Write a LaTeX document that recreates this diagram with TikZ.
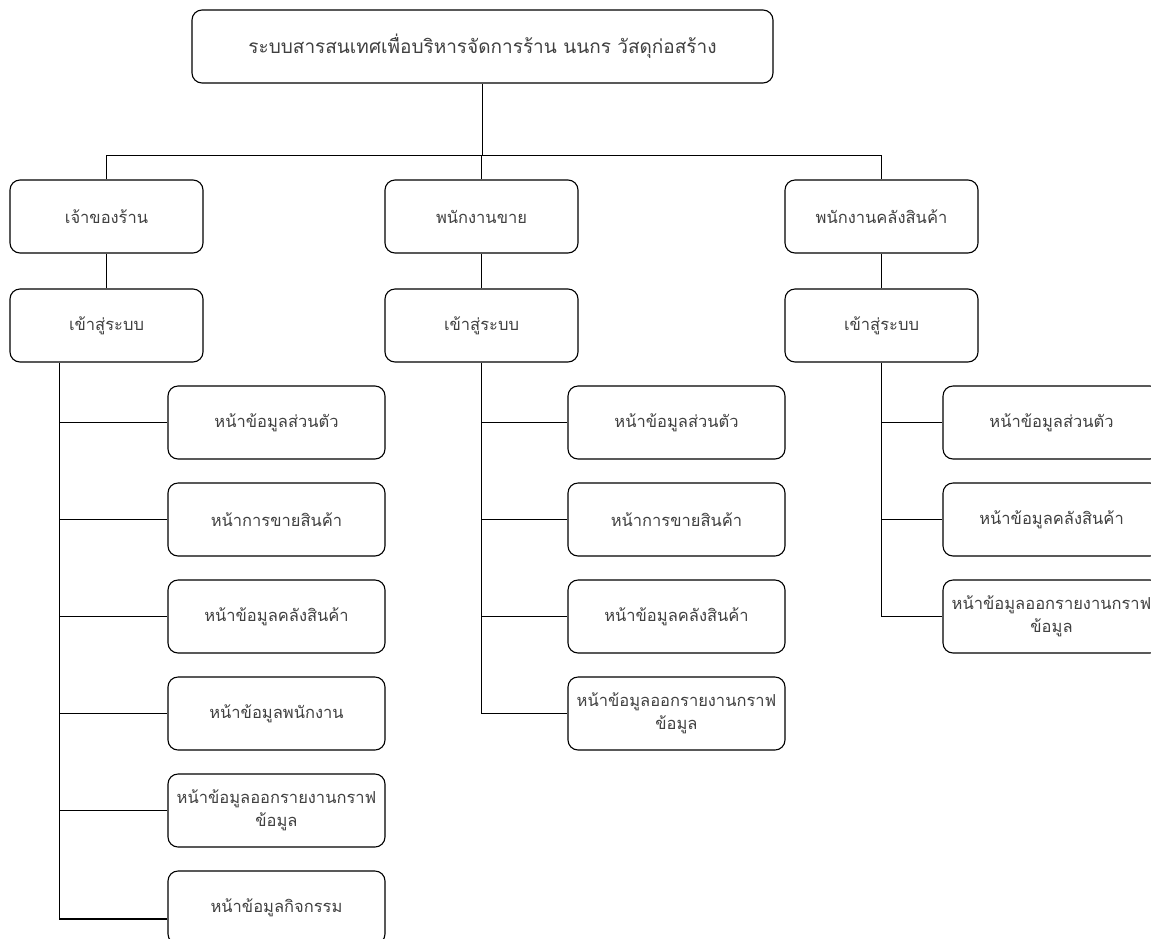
\documentclass[tikz,border=0pt]{standalone}
\usepackage{fontspec}
\newfontfamily\thaifont[Script=Thai]{Loma}
\usetikzlibrary{calc}
\definecolor{txt}{RGB}{64,64,64}
\begin{document}
\begin{tikzpicture}[x=1pt,y=-1pt,
  box/.style={draw=black, line width=1.1pt, rounded corners=10pt, minimum height=73pt,
    align=center, inner sep=2pt, text=txt, font=\thaifont\fontsize{16.5}{23}\selectfont},
  lvl/.style={box, minimum width=193pt},
  leaf/.style={box, minimum width=217pt, text width=213pt},
  conn/.style={draw=black, line width=1.1pt}]
\useasboundingbox (0,0) rectangle (1151,938);
\clip (0,0) rectangle (1151,938);
\fill[white] (0,0) rectangle (1151,938);

\node[box, minimum width=581pt, font=\thaifont\fontsize{19}{24}\selectfont] (top) at (482.5,46.5) {ระบบสารสนเทศเพื่อบริหารจัดการร้าน นนกร วัสดุก่อสร้าง};

\node[lvl] (owner) at (106.5,216.5) {เจ้าของร้าน};
\node[lvl] (sales) at (481.5,216.5) {พนักงานขาย};
\node[lvl] (stock) at (881.5,216.5) {พนักงานคลังสินค้า};

\node[lvl] (ologin) at (106.5,325.5) {เข้าสู่ระบบ};
\node[lvl] (slogin) at (481.5,325.5) {เข้าสู่ระบบ};
\node[lvl] (klogin) at (881.5,325.5) {เข้าสู่ระบบ};

% owner children
\node[leaf] (o1) at (276.5,422.5) {หน้าข้อมูลส่วนตัว};
\node[leaf] (o2) at (276.5,519.5) {หน้าการขายสินค้า};
\node[leaf] (o3) at (276.5,616.5) {หน้าข้อมูลคลังสินค้า};
\node[leaf] (o4) at (276.5,713.5) {หน้าข้อมูลพนักงาน};
\node[leaf] (o5) at (276.5,810.5) {หน้าข้อมูลออกรายงานกราฟ\\ข้อมูล};
\node[leaf] (o6) at (276.5,907.5) {หน้าข้อมูลกิจกรรม};

% sales children
\node[leaf] (s1) at (676.5,422.5) {หน้าข้อมูลส่วนตัว};
\node[leaf] (s2) at (676.5,519.5) {หน้าการขายสินค้า};
\node[leaf] (s3) at (676.5,616.5) {หน้าข้อมูลคลังสินค้า};
\node[leaf] (s4) at (676.5,713.5) {หน้าข้อมูลออกรายงานกราฟ\\ข้อมูล};

% stock children
\node[leaf] (k1) at (1051.5,422.5) {หน้าข้อมูลส่วนตัว};
\node[leaf] (k2) at (1051.5,519.5) {หน้าข้อมูลคลังสินค้า};
\node[leaf] (k3) at (1051.5,616.5) {หน้าข้อมูลออกรายงานกราฟ\\ข้อมูล};

% top connectors
\coordinate (bus) at ($(top.south)+(0,72)$);
\draw[conn] (top.south) -- (bus);
\draw[conn] (owner.north) |- (bus) -| (stock.north);
\draw[conn] (sales.north) -- (sales.north |- bus);

\draw[conn] (owner) -- (ologin);
\draw[conn] (sales) -- (slogin);
\draw[conn] (stock) -- (klogin);

% owner tree
\coordinate (os) at ($(ologin.south west)+(50,0)$);
\coordinate (o6c) at ($(o6.west)+(0,11.5)$);
\draw[conn] (os) |- (o6c);
\foreach \n in {o1,o2,o3,o4,o5} \draw[conn] (os |- \n.west) -- (\n.west);

% sales tree
\draw[conn] (slogin.south) |- (s4.west);
\foreach \n in {s1,s2,s3} \draw[conn] (slogin.south |- \n.west) -- (\n.west);

% stock tree
\draw[conn] (klogin.south) |- (k3.west);
\foreach \n in {k1,k2} \draw[conn] (klogin.south |- \n.west) -- (\n.west);
\end{tikzpicture}
\end{document}
